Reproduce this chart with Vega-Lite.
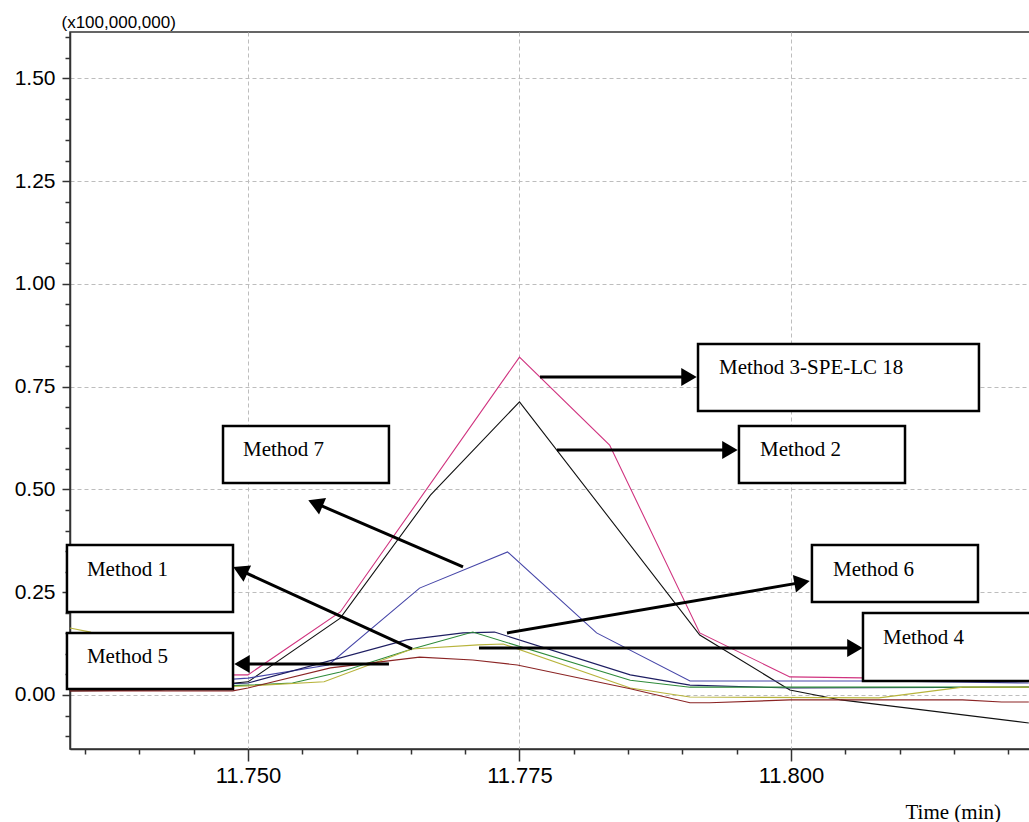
{
  "$schema": "https://vega.github.io/schema/vega-lite/v6.json",
  "width": 960,
  "height": 717,
  "autosize": {"type": "none"},
  "padding": {"left": 70, "top": 32, "right": 0, "bottom": 73},
  "background": "white",
  "config": {
    "view": {"stroke": "#333333", "strokeWidth": 1.5}
  },
  "datasets": {
    "series": [
      {"m": "Method 3-SPE-LC 18", "t": 11.7336, "v": 0.047},
      {"m": "Method 3-SPE-LC 18", "t": 11.7500, "v": 0.049},
      {"m": "Method 3-SPE-LC 18", "t": 11.7585, "v": 0.202},
      {"m": "Method 3-SPE-LC 18", "t": 11.7750, "v": 0.822},
      {"m": "Method 3-SPE-LC 18", "t": 11.7833, "v": 0.608},
      {"m": "Method 3-SPE-LC 18", "t": 11.7916, "v": 0.151},
      {"m": "Method 3-SPE-LC 18", "t": 11.7999, "v": 0.044},
      {"m": "Method 3-SPE-LC 18", "t": 11.8082, "v": 0.041},
      {"m": "Method 3-SPE-LC 18", "t": 11.8165, "v": 0.036},
      {"m": "Method 3-SPE-LC 18", "t": 11.8219, "v": 0.034},
      {"m": "Method 2", "t": 11.7336, "v": 0.010},
      {"m": "Method 2", "t": 11.7419, "v": 0.012},
      {"m": "Method 2", "t": 11.7500, "v": 0.032},
      {"m": "Method 2", "t": 11.7585, "v": 0.187},
      {"m": "Method 2", "t": 11.7668, "v": 0.486},
      {"m": "Method 2", "t": 11.7750, "v": 0.713},
      {"m": "Method 2", "t": 11.7916, "v": 0.146},
      {"m": "Method 2", "t": 11.7999, "v": 0.012},
      {"m": "Method 2", "t": 11.8046, "v": -0.012},
      {"m": "Method 2", "t": 11.8219, "v": -0.068},
      {"m": "Method 7", "t": 11.7336, "v": 0.012},
      {"m": "Method 7", "t": 11.7500, "v": 0.041},
      {"m": "Method 7", "t": 11.7574, "v": 0.073},
      {"m": "Method 7", "t": 11.7658, "v": 0.260},
      {"m": "Method 7", "t": 11.7739, "v": 0.348},
      {"m": "Method 7", "t": 11.7821, "v": 0.151},
      {"m": "Method 7", "t": 11.7907, "v": 0.034},
      {"m": "Method 7", "t": 11.8082, "v": 0.034},
      {"m": "Method 7", "t": 11.8219, "v": 0.029},
      {"m": "Method 1", "t": 11.7336, "v": 0.012},
      {"m": "Method 1", "t": 11.7500, "v": 0.029},
      {"m": "Method 1", "t": 11.7646, "v": 0.134},
      {"m": "Method 1", "t": 11.7698, "v": 0.151},
      {"m": "Method 1", "t": 11.7727, "v": 0.153},
      {"m": "Method 1", "t": 11.7852, "v": 0.049},
      {"m": "Method 1", "t": 11.7907, "v": 0.024},
      {"m": "Method 1", "t": 11.7999, "v": 0.017},
      {"m": "Method 1", "t": 11.8219, "v": 0.019},
      {"m": "Method 6", "t": 11.7336, "v": 0.012},
      {"m": "Method 6", "t": 11.7500, "v": 0.024},
      {"m": "Method 6", "t": 11.7541, "v": 0.029},
      {"m": "Method 6", "t": 11.7585, "v": 0.056},
      {"m": "Method 6", "t": 11.7651, "v": 0.112},
      {"m": "Method 6", "t": 11.7707, "v": 0.153},
      {"m": "Method 6", "t": 11.7852, "v": 0.036},
      {"m": "Method 6", "t": 11.7907, "v": 0.019},
      {"m": "Method 6", "t": 11.8219, "v": 0.019},
      {"m": "Method 4", "t": 11.7336, "v": 0.163},
      {"m": "Method 4", "t": 11.7355, "v": 0.153},
      {"m": "Method 4", "t": 11.7419, "v": 0.015},
      {"m": "Method 4", "t": 11.7500, "v": 0.022},
      {"m": "Method 4", "t": 11.7570, "v": 0.032},
      {"m": "Method 4", "t": 11.7651, "v": 0.112},
      {"m": "Method 4", "t": 11.7712, "v": 0.122},
      {"m": "Method 4", "t": 11.7735, "v": 0.124},
      {"m": "Method 4", "t": 11.7852, "v": 0.017},
      {"m": "Method 4", "t": 11.7907, "v": -0.005},
      {"m": "Method 4", "t": 11.8081, "v": -0.007},
      {"m": "Method 4", "t": 11.8158, "v": 0.019},
      {"m": "Method 4", "t": 11.8219, "v": 0.019},
      {"m": "Method 5", "t": 11.7336, "v": 0.010},
      {"m": "Method 5", "t": 11.7486, "v": 0.010},
      {"m": "Method 5", "t": 11.7500, "v": 0.017},
      {"m": "Method 5", "t": 11.7576, "v": 0.066},
      {"m": "Method 5", "t": 11.7658, "v": 0.092},
      {"m": "Method 5", "t": 11.7707, "v": 0.085},
      {"m": "Method 5", "t": 11.7748, "v": 0.073},
      {"m": "Method 5", "t": 11.7852, "v": 0.015},
      {"m": "Method 5", "t": 11.7907, "v": -0.019},
      {"m": "Method 5", "t": 11.7925, "v": -0.019},
      {"m": "Method 5", "t": 11.7999, "v": -0.012},
      {"m": "Method 5", "t": 11.8158, "v": -0.012},
      {"m": "Method 5", "t": 11.8194, "v": -0.017},
      {"m": "Method 5", "t": 11.8219, "v": -0.017}
    ],
    "boxes": [
      {"label": "Method 3-SPE-LC 18", "x1": 11.79144, "x2": 11.81731, "y1": 0.8538, "y2": 0.6908, "tx": 11.79337, "ty": 0.7808},
      {"label": "Method 2", "x1": 11.79521, "x2": 11.81050, "y1": 0.6543, "y2": 0.5157, "tx": 11.79715, "ty": 0.5814},
      {"label": "Method 7", "x1": 11.74770, "x2": 11.76298, "y1": 0.6543, "y2": 0.5157, "tx": 11.74954, "ty": 0.5814},
      {"label": "Method 1", "x1": 11.73333, "x2": 11.74862, "y1": 0.3649, "y2": 0.2019, "tx": 11.73517, "ty": 0.2895},
      {"label": "Method 5", "x1": 11.73333, "x2": 11.74862, "y1": 0.1508, "y2": 0.0146, "tx": 11.73517, "ty": 0.0778},
      {"label": "Method 6", "x1": 11.80193, "x2": 11.81722, "y1": 0.3649, "y2": 0.2262, "tx": 11.80387, "ty": 0.2895},
      {"label": "Method 4", "x1": 11.80663, "x2": 11.82293, "y1": 0.1995, "y2": 0.0341, "tx": 11.80847, "ty": 0.1241}
    ],
    "arrows": [
      {"label": "Method 3-SPE-LC 18", "xs": 11.77689, "ys": 0.7735, "xe": 11.79061, "ye": 0.7735, "angle": 0},
      {"label": "Method 2", "xs": 11.77845, "ys": 0.5960, "xe": 11.79438, "ye": 0.5960, "angle": 0},
      {"label": "Method 7", "xs": 11.76980, "ys": 0.3114, "xe": 11.75621, "ye": 0.4666, "angle": 203},
      {"label": "Method 1", "xs": 11.76510, "ys": 0.1119, "xe": 11.74929, "ye": 0.3033, "angle": 205},
      {"label": "Method 5", "xs": 11.76298, "ys": 0.0754, "xe": 11.74945, "ye": 0.0754, "angle": 180},
      {"label": "Method 6", "xs": 11.77385, "ys": 0.1508, "xe": 11.80102, "ye": 0.2739, "angle": 350},
      {"label": "Method 4", "xs": 11.77127, "ys": 0.1143, "xe": 11.80589, "ye": 0.1143, "angle": 0}
    ]
  },
  "layer": [
    {
      "data": {"name": "series"},
      "mark": {"type": "line", "strokeWidth": 1.1, "interpolate": "linear"},
      "encoding": {
        "x": {
          "field": "t", "type": "quantitative",
          "scale": {"domain": [11.73361, 11.82201], "nice": false, "zero": false},
          "axis": {
            "values": [11.735, 11.74, 11.745, 11.75, 11.755, 11.76, 11.765, 11.77, 11.775, 11.78, 11.785, 11.79, 11.795, 11.8, 11.805, 11.81, 11.815, 11.82],
            "tickCount": 200,
            "labelExpr": "abs(datum.value*40 - round(datum.value*40)) < 0.001 ? format(datum.value, '.3f') : ''",
            "tickSize": {"condition": {"test": "abs(datum.value*40 - round(datum.value*40)) < 0.001", "value": 12}, "value": 5},
            "gridOpacity": {"condition": {"test": "abs(datum.value*40 - round(datum.value*40)) < 0.001", "value": 1}, "value": 0},
            "grid": true, "gridDash": [4, 3], "gridColor": "#bdbdbd", "gridWidth": 1,
            "domainColor": "#333333", "domainWidth": 1.5, "tickColor": "#333333", "tickWidth": 1.5,
            "labelOverlap": false, "labelFlush": false,
            "labelFont": "Liberation Sans", "labelFontSize": 22, "labelColor": "black", "labelPadding": 4,
            "title": "Time (min)", "titleFont": "Liberation Serif", "titleFontSize": 21, "titleFontWeight": "normal", "titleColor": "black",
            "titleAlign": "left", "titleBaseline": "alphabetic", "titleX": 835, "titleY": 69
          }
        },
        "y": {
          "field": "v", "type": "quantitative",
          "scale": {"domain": [-0.1314, 1.6128], "nice": false, "zero": false},
          "axis": {
            "values": [-0.1, -0.05, 0, 0.05, 0.1, 0.15, 0.2, 0.25, 0.3, 0.35, 0.4, 0.45, 0.5, 0.55, 0.6, 0.65, 0.7, 0.75, 0.8, 0.85, 0.9, 0.95, 1, 1.05, 1.1, 1.15, 1.2, 1.25, 1.3, 1.35, 1.4, 1.45, 1.5, 1.55, 1.6],
            "tickCount": 200,
            "labelExpr": "abs(datum.value*4 - round(datum.value*4)) < 0.001 ? format(datum.value, '.2f') : ''",
            "tickSize": {"condition": {"test": "abs(datum.value*4 - round(datum.value*4)) < 0.001", "value": 8}, "value": 5},
            "gridOpacity": {"condition": {"test": "abs(datum.value*4 - round(datum.value*4)) < 0.001", "value": 1}, "value": 0},
            "grid": true, "gridDash": [4, 3], "gridColor": "#bdbdbd", "gridWidth": 1,
            "domainColor": "#333333", "domainWidth": 1.5, "tickColor": "#333333", "tickWidth": 1.5,
            "labelOverlap": false, "labelFlush": false,
            "labelFont": "Liberation Sans", "labelFontSize": 21, "labelColor": "black", "labelPadding": 7,
            "title": "(x100,000,000)", "titleFont": "Liberation Sans", "titleFontSize": 17, "titleFontWeight": "normal", "titleColor": "black",
            "titleAngle": 0, "titleAlign": "left", "titleBaseline": "alphabetic", "titleX": -9, "titleY": -5
          }
        },
        "color": {
          "field": "m", "type": "nominal",
          "scale": {
            "domain": ["Method 3-SPE-LC 18", "Method 2", "Method 7", "Method 1", "Method 6", "Method 4", "Method 5"],
            "range": ["#d0337f", "#111111", "#4646a8", "#1e1e62", "#2e8b3a", "#b8b43c", "#8b2424"]
          },
          "legend": null
        },
        "order": {"field": "t", "type": "quantitative"}
      }
    },
    {
      "data": {"name": "boxes"},
      "mark": {"type": "rect", "fill": "white", "stroke": "black", "strokeWidth": 2.5},
      "encoding": {
        "x": {"field": "x1", "type": "quantitative", "scale": {"domain": [11.73361, 11.82201], "nice": false, "zero": false}},
        "x2": {"field": "x2"},
        "y": {"field": "y1", "type": "quantitative", "scale": {"domain": [-0.1314, 1.6128], "nice": false, "zero": false}},
        "y2": {"field": "y2"}
      }
    },
    {
      "data": {"name": "arrows"},
      "mark": {"type": "rule", "color": "black", "strokeWidth": 3},
      "encoding": {
        "x": {"field": "xs", "type": "quantitative", "scale": {"domain": [11.73361, 11.82201], "nice": false, "zero": false}},
        "x2": {"field": "xe"},
        "y": {"field": "ys", "type": "quantitative", "scale": {"domain": [-0.1314, 1.6128], "nice": false, "zero": false}},
        "y2": {"field": "ye"}
      }
    },
    {
      "data": {"name": "arrows"},
      "mark": {"type": "point", "shape": "triangle-right", "filled": true, "color": "black", "size": 320, "opacity": 1},
      "encoding": {
        "x": {"field": "xe", "type": "quantitative", "scale": {"domain": [11.73361, 11.82201], "nice": false, "zero": false}},
        "y": {"field": "ye", "type": "quantitative", "scale": {"domain": [-0.1314, 1.6128], "nice": false, "zero": false}},
        "angle": {"field": "angle", "type": "quantitative", "scale": null}
      }
    },
    {
      "data": {"name": "boxes"},
      "mark": {"type": "text", "align": "left", "baseline": "alphabetic", "font": "Liberation Serif", "fontSize": 21, "color": "black"},
      "encoding": {
        "x": {"field": "tx", "type": "quantitative", "scale": {"domain": [11.73361, 11.82201], "nice": false, "zero": false}},
        "y": {"field": "ty", "type": "quantitative", "scale": {"domain": [-0.1314, 1.6128], "nice": false, "zero": false}},
        "text": {"field": "label"}
      }
    }
  ]
}
